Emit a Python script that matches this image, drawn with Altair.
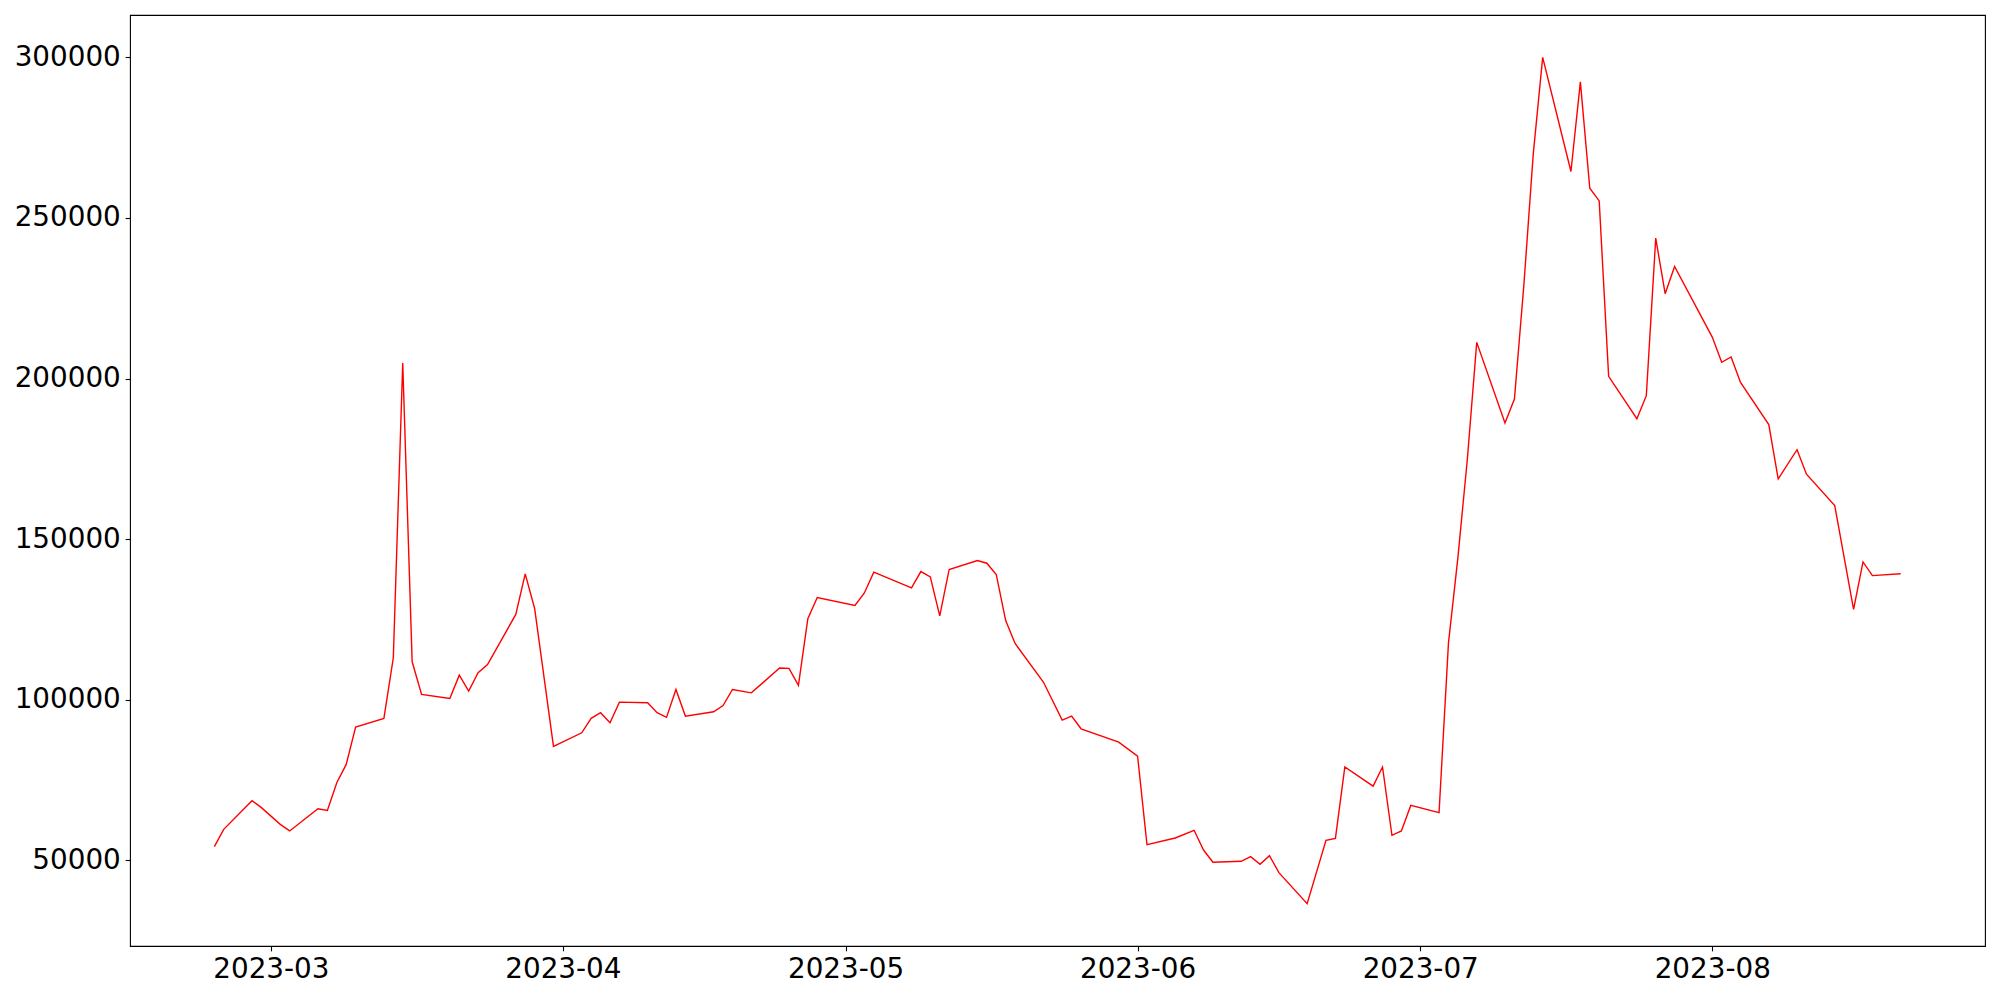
import altair as alt
import pandas as pd

dates = [
    "2023-02-23", "2023-02-24", "2023-02-27", "2023-02-28", "2023-03-02", "2023-03-03",
    "2023-03-06", "2023-03-07", "2023-03-08", "2023-03-09", "2023-03-10",
    "2023-03-13", "2023-03-14", "2023-03-15", "2023-03-16", "2023-03-17",
    "2023-03-20", "2023-03-21", "2023-03-22", "2023-03-23", "2023-03-24",
    "2023-03-27", "2023-03-28", "2023-03-29", "2023-03-31",
    "2023-04-03", "2023-04-04", "2023-04-05", "2023-04-06", "2023-04-07",
    "2023-04-10", "2023-04-11", "2023-04-12", "2023-04-13", "2023-04-14",
    "2023-04-17", "2023-04-18", "2023-04-19", "2023-04-21",
    "2023-04-24", "2023-04-25", "2023-04-26", "2023-04-27", "2023-04-28",
    "2023-05-02", "2023-05-03", "2023-05-04",
    "2023-05-08", "2023-05-09", "2023-05-10", "2023-05-11", "2023-05-12",
    "2023-05-15", "2023-05-16", "2023-05-17", "2023-05-18", "2023-05-19",
    "2023-05-22", "2023-05-24", "2023-05-25", "2023-05-26",
    "2023-05-30", "2023-06-01", "2023-06-02",
    "2023-06-05", "2023-06-07", "2023-06-08", "2023-06-09",
    "2023-06-12", "2023-06-13", "2023-06-14", "2023-06-15", "2023-06-16",
    "2023-06-19", "2023-06-21", "2023-06-22", "2023-06-23",
    "2023-06-26", "2023-06-27", "2023-06-28", "2023-06-29", "2023-06-30",
    "2023-07-03", "2023-07-04", "2023-07-05", "2023-07-06", "2023-07-07",
    "2023-07-10", "2023-07-11", "2023-07-12", "2023-07-13", "2023-07-14",
    "2023-07-17", "2023-07-18", "2023-07-19", "2023-07-20", "2023-07-21",
    "2023-07-24", "2023-07-25", "2023-07-26", "2023-07-27", "2023-07-28",
    "2023-08-01", "2023-08-02", "2023-08-03", "2023-08-04",
    "2023-08-07", "2023-08-08", "2023-08-10", "2023-08-11",
    "2023-08-14", "2023-08-16", "2023-08-17", "2023-08-18", "2023-08-21",
]

values = [
    54250, 59650, 68550, 66400, 61200, 59150,
    66050, 65550, 74150, 79850, 91500,
    94200, 113050, 204800, 111800, 101650,
    100400, 107650, 102700, 108400, 110950,
    126550, 139200, 128400, 85450,
    89700, 94200, 95950, 92850, 99250,
    99050, 95950, 94500, 103200, 94900,
    96250, 98200, 103200, 102150,
    109850, 109750, 104450, 125200, 131800,
    129350, 133250, 139700,
    134850, 139900, 138250, 126100, 140550,
    143350, 142500, 139000, 124650, 117500,
    105500, 93650, 94900, 90950,
    86800, 82450, 54850,
    56950, 59350, 53200, 49400,
    49700, 51150, 48750, 51450, 46150,
    36500, 56200, 56850, 79050,
    73100, 79050, 57800, 59150, 67100,
    64850, 117700, 144250, 174800, 211250,
    186150, 193600, 229000, 269950, 300000,
    264450, 292350, 259250, 255300, 200700,
    187500, 194650, 243700, 226400, 234900,
    212900, 205050, 206700, 198800,
    185650, 168750, 177850, 170200,
    160450, 128100, 142900, 138650, 139200,
]

y_ticks = [50000, 100000, 150000, 200000, 250000, 300000]
x_tick_months = [3, 4, 5, 6, 7, 8]

df = pd.DataFrame({"date": dates, "value": values})

# matplotlib-like 5% margins
ts = pd.to_datetime(df["date"]).astype("int64") // 10**6
tmin, tmax = int(ts.min()), int(ts.max())
tpad = (tmax - tmin) * 0.05
vmin, vmax = min(values), max(values)
vpad = (vmax - vmin) * 0.05

font = "DejaVu Sans"
fs = 27.8

chart = (
    alt.Chart(df)
    .mark_line(color="#ff0000", strokeWidth=1.4)
    .encode(
        x=alt.X(
            "date:T",
            scale=alt.Scale(type="utc", domain=[tmin - tpad, tmax + tpad], nice=False),
            axis=alt.Axis(
                values=[alt.DateTime(year=2023, month=m, date=1, utc=True) for m in x_tick_months],
                labelExpr="utcFormat(datum.value, '%Y-%m')",
                title=None,
                labelFlush=False,
                labelOverlap=False,
                grid=False,
                domain=False,
                tickSize=4.86,
                tickWidth=1.1,
                tickColor="black",
                labelPadding=4.86,
                labelFont=font,
                labelFontSize=fs,
                labelColor="black",
            ),
        ),
        y=alt.Y(
            "value:Q",
            scale=alt.Scale(domain=[vmin - vpad, vmax + vpad], nice=False, zero=False),
            axis=alt.Axis(
                values=y_ticks,
                format="d",
                title=None,
                labelOverlap=False,
                grid=False,
                domain=False,
                tickSize=4.86,
                tickWidth=1.1,
                tickColor="black",
                labelPadding=4.86,
                labelFont=font,
                labelFontSize=fs,
                labelColor="black",
            ),
        ),
    )
    .properties(
        width=1855,
        height=931,
        padding={"left": 122, "top": 7, "right": 5, "bottom": 46},
        autosize=alt.AutoSizeParams(type="none"),
        background="white",
    )
    .configure_view(stroke="black", strokeWidth=1.1, fill="white")
)

chart.save("out.html", embed_options={"renderer": "svg", "actions": False})
